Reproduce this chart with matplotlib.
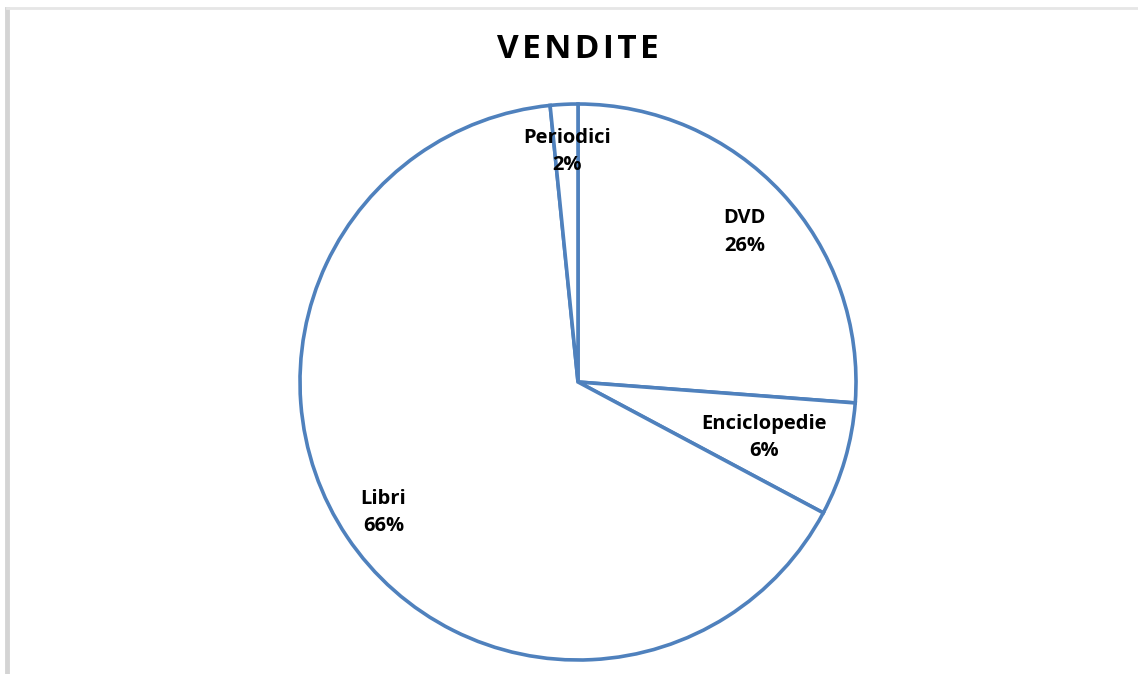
import matplotlib.pyplot as plt
from matplotlib.lines import Line2D

# data
categorie = ['DVD', 'Enciclopedie', 'Libri', 'Periodici']
quote = [26.2, 6.6, 65.6, 1.6]
etichette = ['26%', '6%', '66%', '2%']
# label positions in pie radius units (Excel "best fit")
pos_etichette = [(0.60, 0.54), (0.67, -0.20), (-0.70, -0.47), (-0.04, 0.83)]

blu = '#4F81BD'
W, H = 1138, 674
cx, cy, r = 578, 382, 278

fig = plt.figure(figsize=(W / 100, H / 100), dpi=100)
fig.patch.set_facecolor('white')

# soft frame shadow on the left and top edges
fig.add_artist(Line2D([7 / W, 7 / W], [0, 1 - 9 / H], transform=fig.transFigure,
                      color='#d4d4d4', lw=3.5))
fig.add_artist(Line2D([7 / W, 1], [1 - 8 / H, 1 - 8 / H], transform=fig.transFigure,
                      color='#e6e6e6', lw=2))

ax = fig.add_axes([(cx - r) / W, (H - cy - r) / H, 2 * r / W, 2 * r / H])
wedges, _ = ax.pie(quote, startangle=90, counterclock=False, radius=1,
                   colors=['white'] * len(quote),
                   wedgeprops=dict(edgecolor=blu, linewidth=2.6))
for w in wedges:
    w.set_clip_on(False)
ax.set_xlim(-1, 1)
ax.set_ylim(-1, 1)
ax.set_aspect('equal')
ax.axis('off')

font = ['Open Sans', 'DejaVu Sans']
for nome, perc, (x, y) in zip(categorie, etichette, pos_etichette):
    ax.text(x, y, f'{nome}\n{perc}', ha='center', va='center',
            fontsize=14.5, fontweight='bold', family=font, linespacing=1.5)

fig.text(cx / W, 1 - 50 / H, '\u200a'.join('VENDITE'), ha='center', va='center',
         fontsize=24, fontweight='bold', family=font)

fig.savefig('out.png', dpi=100, facecolor='white')
